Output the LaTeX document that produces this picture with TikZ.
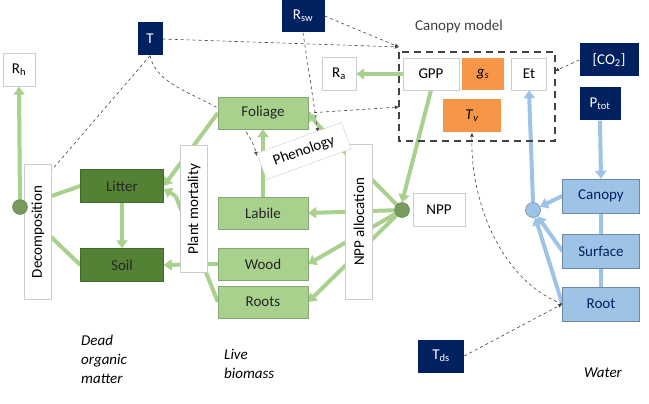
\documentclass[tikz,border=0pt]{standalone}
\usepackage{fontspec}
\setmainfont{Carlito}
\usetikzlibrary{arrows.meta,calc,backgrounds}
\definecolor{lg}{HTML}{A9D18E}
\definecolor{dg}{HTML}{548235}
\definecolor{lb}{HTML}{9DC3E6}
\definecolor{nv}{HTML}{002060}
\definecolor{og}{HTML}{F79646}
\definecolor{dgr}{HTML}{404040}
\tikzset{
 base/.style={font=\fontsize{15}{17}\selectfont, inner sep=0pt, anchor=center},
 wbox/.style={base, draw=black!20, fill=white, minimum width=#1, minimum height=33pt},
 wbox/.default=34pt,
 lgbox/.style={base, draw=dg!70, fill=lg, text=black!85, minimum width=90pt, minimum height=32pt},
 dgbox/.style={base, draw=dg!80!black, fill=dg, text=black!85, minimum width=83pt, minimum height=33pt},
 bbox/.style={base, draw=lb!70!black, fill=lb, text=nv, minimum width=77pt, minimum height=34pt},
 nbox/.style={base, fill=nv, text=white, minimum height=33pt},
 obox/.style={base, fill=og, minimum height=32pt},
 vbox/.style={base, draw=black!20, fill=white, rotate=90, minimum height=27pt},
 garr/.style={draw=lg, line width=4pt, -{Triangle[width=11pt,length=8pt]}},
 gline/.style={draw=lg, line width=4pt},
 barr/.style={draw=lb, line width=4pt, -{Triangle[width=11pt,length=8pt]}},
 bline/.style={draw=lb, line width=4pt},
 darr/.style={draw=dgr, dashed, line width=0.6pt, -{Latex[length=4pt,width=4pt]}, draw=dgr},
 circ/.style={circle, minimum size=15pt, inner sep=0pt},
}
\begin{document}
\begin{tikzpicture}[x=1pt,y=-1pt]
\useasboundingbox (0,0) rectangle (649,404);
% nodes
\node[nbox, minimum width=25pt] (T) at (150,39) {T};
\node[nbox, minimum width=43pt] (Rsw) at (303,16) {R\textsubscript{sw}};
\node[wbox=32pt] (Rh) at (19,70) {R\textsubscript{h}};
\node[wbox=34pt] (Ra) at (339,74) {R\textsubscript{a}};
\node[base, text=black!75] (cm) at (459,27) {Canopy model};
\draw[dgr, line width=2pt, dash pattern=on 7pt off 5pt] (399,52) rectangle (555,141);
\coordinate (boxTL) at (399,47);
\coordinate (boxL) at (399,107);
\coordinate (boxR) at (555,71);
\node[wbox=56pt, minimum height=32pt] (GPP) at (431,74) {GPP};
\node[obox, minimum width=42pt] (gs) at (483,74) {\textit{g}\textsubscript{\textit{s}}};
\node[wbox=35pt, minimum height=32pt] (Et) at (529,74) {Et};
\node[obox, minimum width=58pt, minimum height=33pt] (Tv) at (472,116) {\textit{T}\textsubscript{\textit{v}}};
\node[nbox, minimum width=59pt] (CO2) at (609,60) {[CO\textsubscript{2}]};
\node[nbox, minimum width=41pt] (Ptot) at (600,104) {P\textsubscript{tot}};
% carbon
\node[lgbox] (Fol) at (263,113) {Foliage};
\node[lgbox] (Lab) at (263,213) {Labile};
\node[lgbox] (Wood) at (263,264) {Wood};
\node[lgbox] (Roots) at (263,302) {Roots};
\node[dgbox] (Lit) at (122,186) {Litter};
\node[dgbox] (Soil) at (122,265) {Soil};
\node[vbox, minimum width=135pt] (Dec) at (38,232) {Decomposition};
\node[vbox, minimum width=127pt] (PM) at (194,209) {Plant mortality};
\node[vbox, minimum width=155pt] (NA) at (359,222) {NPP allocation};
\node[circ, fill=dg!80, draw=dg] (cL) at (20,207) {};
\node[circ, fill=dg!80, draw=dg] (cN) at (402,210) {};
\node[wbox=52pt] (NPP) at (439,210) {NPP};
% water
\node[bbox] (Can) at (601,196) {Canopy};
\node[bbox] (Surf) at (601,251) {Surface};
\node[bbox] (Root) at (601,304) {Root};
\node[circ, fill=lb, draw=lb!60!black] (cW) at (533,210) {};
\node[nbox, minimum width=46pt] (Tds) at (441,356) {T\textsubscript{ds}};
% labels
\node[base, font=\fontsize{15}{19}\selectfont\itshape, align=left, anchor=north west] (l1) at (81,335) {Dead\\organic\\matter};
\node[base, font=\fontsize{15}{19}\selectfont\itshape, align=left, anchor=north west] (l2) at (224,349) {Live\\biomass};
\node[base, font=\fontsize{15}{19}\selectfont\itshape] (l3) at (603,373) {Water};
\node[wbox=90pt, minimum height=28pt, rotate=20] (Phen) at (304,151) {Phenology};
\begin{scope}[on background layer]
\draw[gline] (cN.north west) -- (318,125);
\draw[garr] (318,125) -- (Fol.east);
\draw[garr] (Lab.north) -- (Fol.south);
\draw[garr] (cL) -- (Rh.south);
\draw[gline] (Lit.west) -- (cL);
\draw[gline] (Soil.west) -- (cL);
\draw[garr] (Lit.south) -- (Soil.north);
\draw[garr] (Fol.west) -- (Lit.east);
\draw[garr] (Wood.west) -- (Soil.east);
\draw[gline] (Roots.west) -- ($(Lit.east)+(12,10)$);
\draw[garr] ($(Lit.east)+(12,10)$) -- ($(Lit.east)+(0,3)$);
\draw[garr] (cN) -- (Lab.east);
\draw[garr] (cN) -- (Wood.east);
\draw[garr] (cN) -- (Roots.east);
\draw[garr] (GPP.south) -- (cN.north);
\draw[garr] (GPP.west) -- (Ra.east);
\draw[barr] (Ptot.south) -- (Can.north);
\draw[bline] (Can.south) -- (Surf.north) (Surf.south) -- (Root.north);
\draw[barr] (Can.west) -- (cW);
\draw[barr] (Surf.west) -- (cW);
\draw[barr] (Root.west) -- (cW);
\draw[barr] (cW.north) -- (Et.south);
% dashed
\draw[darr] (T.east) -- (boxTL);
\draw[darr] (Rsw.east) -- (boxTL);
\draw[darr] (T.south) -- (cL);
\draw[darr] (T.south) .. controls (160,100) and (240,95) .. (257,156);
\draw[darr] (Rsw.south) -- (318,132);
\draw[darr] (Fol.east) -- (boxL);
\draw[darr] (CO2.west) -- (boxR);
\draw[darr] (Tds.east) -- (Root.west);
\draw[darr] (Root.west) .. controls (500,280) and (470,200) .. (Tv.south);
\end{scope}
\end{tikzpicture}
\end{document}
